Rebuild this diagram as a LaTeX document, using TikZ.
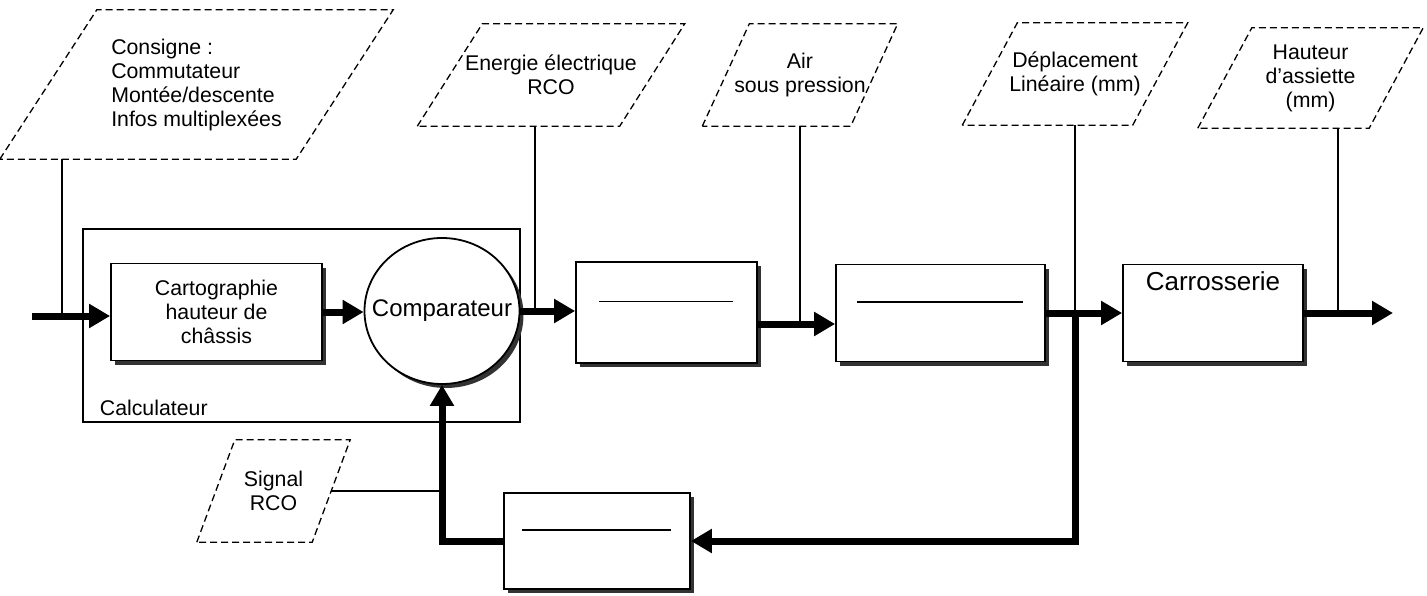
\documentclass[tikz,border=0pt]{standalone}
\usepackage{fontspec}
\setmainfont{Liberation Sans}
\usepackage{tikz}
\usetikzlibrary{shapes.geometric, arrows.meta, positioning, shadows}

\begin{document}
\begin{tikzpicture}[
    x=1pt, y=1pt,
    txt/.style={font=\fontsize{21.3}{24}\selectfont},
    box/.style={rectangle, draw, line width=1.8pt, fill=white, align=center, txt, drop shadow={shadow xshift=4pt, shadow yshift=-4pt, opacity=1, fill=black!80}},
    ptxt/.style={rectangle, align=center, txt, inner sep=0pt},
    para/.style={dash pattern=on 7pt off 4pt, line width=1.3pt},
    arr/.style={-{Triangle[length=21pt, width=23pt]}, line width=7pt},
    tap/.style={line width=1.3pt},
    bar/.style={line width=1.6pt}
]
\useasboundingbox (0,0) rectangle (1427,-596);

% Calculateur
\node[draw, line width=1.3pt, minimum width=437pt, minimum height=193pt] (calc) at (301.5,-325.5) {};
\node[txt, anchor=base west] (calclbl) at ([shift={(14pt,7pt)}]calc.south west) {Calculateur};

% Blocs
\node[box, minimum width=211pt, minimum height=97pt] (carto) at (216.5,-312) {Cartographie\\hauteur de\\châssis};
\node[box, ellipse, minimum width=155pt, minimum height=146pt, label={[font=\fontsize{24}{28}\selectfont]center:Comparateur}] (comp) at (442,-311) {};
\node[box, minimum width=181pt, minimum height=101pt] (bloc1) at (666.5,-312.5) {};
\node[box, minimum width=209pt, minimum height=97pt] (bloc2) at (940.5,-313) {};
\node[box, minimum width=180pt, minimum height=97pt] (carro) at (1213,-313) {};
\node[font=\fontsize{26}{30}\selectfont, below=5pt of carro.north] (carrolbl) {Carrosserie};
\node[box, minimum width=186pt, minimum height=96pt] (retour) at (597,-541) {};

% Traits dans les blocs
\draw[bar] ([shift={(24pt,11pt)}]bloc1.west) -- ([shift={(-25pt,11pt)}]bloc1.east);
\draw[bar] ([shift={(22pt,11pt)}]bloc2.west) -- ([shift={(-23pt,11pt)}]bloc2.east);
\draw[bar] ([shift={(19pt,11pt)}]retour.west) -- ([shift={(-20pt,11pt)}]retour.east);

% Entrees
\node[ptxt, align=left, minimum width=296pt, minimum height=149pt] (consigne) at (196.5,-84.5) {Consigne :\\Commutateur\\Montée/descente\\Infos multiplexées};
\node[ptxt, minimum width=202pt, minimum height=102pt] (energie) at (551,-75) {Energie électrique\\RCO};
\node[ptxt, minimum width=148pt, minimum height=102pt] (air) at (800,-75) {Air\\sous pression};
\node[ptxt, minimum width=170pt, minimum height=102pt] (deplac) at (1075,-74) {Déplacement\\Linéaire (mm)};
\node[ptxt, minimum width=171pt, minimum height=100pt] (hauteur) at (1310.5,-78) {Hauteur\\d'assiette\\(mm)};
\node[ptxt, minimum width=115pt, minimum height=102pt] (signal) at (273.5,-491) {Signal\\RCO};

% Cadres en pointilles
\foreach \n/\o in {consigne/48.5, energie/32.5, air/23.5, deplac/27.5, hauteur/27, signal/19}
  \draw[para] ([xshift=-\o pt]\n.south west) -- ([xshift=\o pt]\n.north west)
    -- ([xshift=\o pt]\n.north east) -- ([xshift=-\o pt]\n.south east) -- cycle;

% Points de jonction
\coordinate (start) at (32,-316);
\coordinate (sortie) at (1393,-313);
\coordinate (jC) at (62,-316);
\coordinate (jE) at (535,-311);
\coordinate (jA) at (800,-324);
\coordinate (jD) at (1075,-313);
\coordinate (jH) at (1338,-313);

% Liaisons fines
\draw[tap] (jC |- consigne.south) -- (jC);
\draw[tap] (jE |- energie.south) -- (jE);
\draw[tap] (jA |- air.south) -- (jA);
\draw[tap] (jD |- deplac.south) -- (jD);
\draw[tap] (jH |- hauteur.south) -- (jH);
\draw[tap] (signal.east) -- (signal.east -| comp.south);

% Fleches
\draw[arr] (start) -- (start -| carto.west);
\draw[arr] (carto.east) -- (carto.east -| comp.west);
\draw[arr] (comp.east) -- (comp.east -| bloc1.west);
\draw[arr] (jA -| bloc1.east) -- (jA -| bloc2.west);
\draw[arr] (bloc2.east) -- (bloc2.east -| carro.west);
\draw[arr] (carro.east) -- (sortie);
\draw[arr] (jD) |- (retour.east);
\draw[arr] (retour.west) -| (comp.south);

\end{tikzpicture}
\end{document}
